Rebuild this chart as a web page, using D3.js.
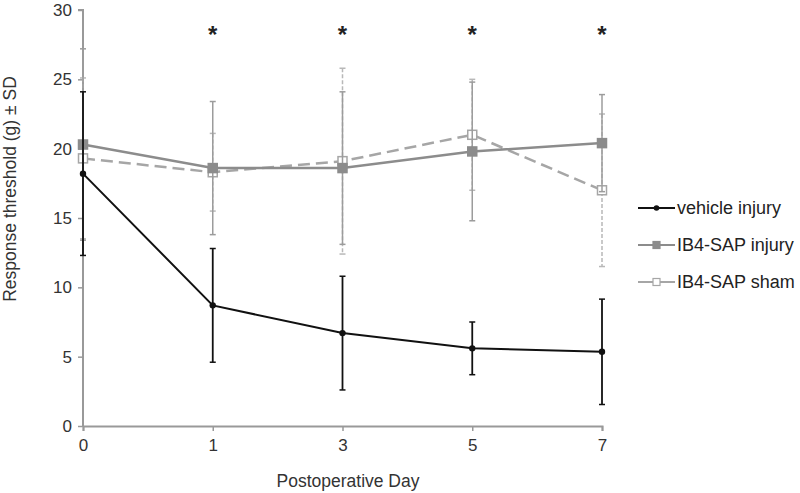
<!DOCTYPE html>
<html>
<head>
<meta charset="utf-8">
<script src="https://cdn.jsdelivr.net/npm/d3@7"></script>
<style>
  body { margin: 0; background: #fff; }
  svg { font-family: "Liberation Sans", Arial, sans-serif; }
</style>
</head>
<body>
<div id="chart"></div>
<script>
// days after surgery
const days = ["0", "1", "3", "5", "7"];

const vehicleMean = [18.2, 8.7, 6.7, 5.6, 5.35];
const vehicleSD   = [5.9, 4.1, 4.1, 1.9, 3.8];

const injuryMean = [20.3, 18.6, 18.6, 19.8, 20.4];
const injurySD   = [6.9, 4.8, 5.5, 5.0, 3.5];

const shamMean = [19.3, 18.3, 19.1, 21.0, 17.0];
const shamSD   = [5.8, 2.8, 6.7, 4.0, 5.5];

const starDays = ["1", "3", "5", "7"];
const yTicks = [0, 5, 10, 15, 20, 25, 30];

const width = 800, height = 493;
const margin = { left: 83, right: 198, top: 10, bottom: 67 };

const svg = d3.select("#chart").append("svg")
  .attr("width", width)
  .attr("height", height);

const x = d3.scalePoint()
  .domain(days)
  .range([margin.left, width - margin.right]);

const y = d3.scaleLinear()
  .domain([0, 30])
  .range([height - margin.bottom, margin.top]);

// axes
const yAxis = svg.append("g")
  .attr("transform", `translate(${margin.left},0)`)
  .call(d3.axisLeft(y).tickValues(yTicks).tickSize(5).tickPadding(6));
const xAxis = svg.append("g")
  .attr("transform", `translate(0,${y(0)})`)
  .call(d3.axisBottom(x).tickSize(5).tickPadding(8));

[yAxis, xAxis].forEach(a => {
  a.select(".domain").attr("stroke", "#999").attr("stroke-width", 2);
  a.selectAll(".tick line").attr("stroke", "#999").attr("stroke-width", 1.5);
  a.selectAll("text").attr("fill", "#333").style("font-size", "17px");
});
yAxis.select(".domain").attr("d", `M-5,${y(30)}H0V${y(0)}`);

svg.append("text")
  .attr("x", 348)
  .attr("y", 487)
  .attr("text-anchor", "middle")
  .attr("fill", "#333")
  .style("font-size", "17.5px")
  .text("Postoperative Day");

svg.append("text")
  .attr("transform", `translate(16,189) rotate(-90)`)
  .attr("text-anchor", "middle")
  .attr("fill", "#333")
  .style("font-size", "17.5px")
  .text("Response threshold (g) ± SD");

const series = [
  { name: "IB4-SAP sham", mean: shamMean, sd: shamSD, color: "#a6a6a6", errColor: "#b8b8b8", dash: "12,6", errDash: "4,2", marker: "open", width: 2.5 },
  { name: "IB4-SAP injury", mean: injuryMean, sd: injurySD, color: "#8c8c8c", errColor: "#9c9c9c", dash: null, errDash: null, marker: "filled", width: 2.5 },
  { name: "vehicle injury", mean: vehicleMean, sd: vehicleSD, color: "#111", errColor: "#111", dash: null, errDash: null, marker: "dot", width: 2 }
];

const line = d3.line()
  .x(d => x(d.day))
  .y(d => y(d.v));

series.forEach(s => {
  const pts = days.map((day, i) => ({ day, v: s.mean[i], sd: s.sd[i] }));
  const g = svg.append("g");

  // error bars
  const eb = g.selectAll(".err").data(pts).enter().append("g");
  eb.append("line")
    .attr("x1", d => x(d.day)).attr("x2", d => x(d.day))
    .attr("y1", d => y(d.v + d.sd)).attr("y2", d => y(d.v - d.sd))
    .attr("stroke", s.errColor).attr("stroke-width", s.marker === "dot" ? 1.8 : 1.5)
    .attr("stroke-dasharray", s.errDash);
  [1, -1].forEach(sign => {
    eb.append("line")
      .attr("x1", d => x(d.day) - 3).attr("x2", d => x(d.day) + 3)
      .attr("y1", d => y(d.v + sign * d.sd)).attr("y2", d => y(d.v + sign * d.sd))
      .attr("stroke", s.errColor).attr("stroke-width", 1.5);
  });

  g.append("path")
    .datum(pts)
    .attr("d", line)
    .attr("fill", "none")
    .attr("stroke", s.color)
    .attr("stroke-width", s.width)
    .attr("stroke-dasharray", s.dash);

  drawMarkers(g, pts.map(d => [x(d.day), y(d.v)]), s);
});

function drawMarkers(g, coords, s) {
  coords.forEach(([cx, cy]) => {
    if (s.marker === "dot") {
      g.append("circle").attr("cx", cx).attr("cy", cy).attr("r", 3.2).attr("fill", s.color);
    } else {
      const r = 4.5;
      g.append("rect")
        .attr("x", cx - r).attr("y", cy - r)
        .attr("width", 2 * r).attr("height", 2 * r)
        .attr("fill", s.marker === "filled" ? s.color : "#fff")
        .attr("stroke", s.color).attr("stroke-width", 1.5);
    }
  });
}

// significance stars
svg.selectAll(".star").data(starDays).enter().append("text")
  .attr("x", d => x(d))
  .attr("y", y(28.3) + 9)
  .attr("text-anchor", "middle")
  .attr("fill", "#222")
  .style("font-size", "24px")
  .style("font-weight", "bold")
  .text("*");

// legend
const legendOrder = [series[2], series[1], series[0]];
const legend = svg.append("g").attr("transform", "translate(638,208)");
legendOrder.forEach((s, i) => {
  const row = legend.append("g").attr("transform", `translate(0,${i * 37})`);
  row.append("line").attr("x1", 0).attr("x2", 37).attr("y1", 0).attr("y2", 0)
    .attr("stroke", s.color).attr("stroke-width", 2);
  if (s.marker === "dot") {
    row.append("circle").attr("cx", 18.5).attr("cy", 0).attr("r", 2.8).attr("fill", s.color);
  } else {
    row.append("rect").attr("x", 15).attr("y", -3.5).attr("width", 7).attr("height", 7)
      .attr("fill", s.marker === "filled" ? s.color : "#fff")
      .attr("stroke", s.color).attr("stroke-width", 1.2);
  }
  row.append("text").attr("x", 39).attr("y", 6)
    .attr("fill", "#222")
    .style("font-size", "18px")
    .text(s.name);
});
</script>
</body>
</html>
